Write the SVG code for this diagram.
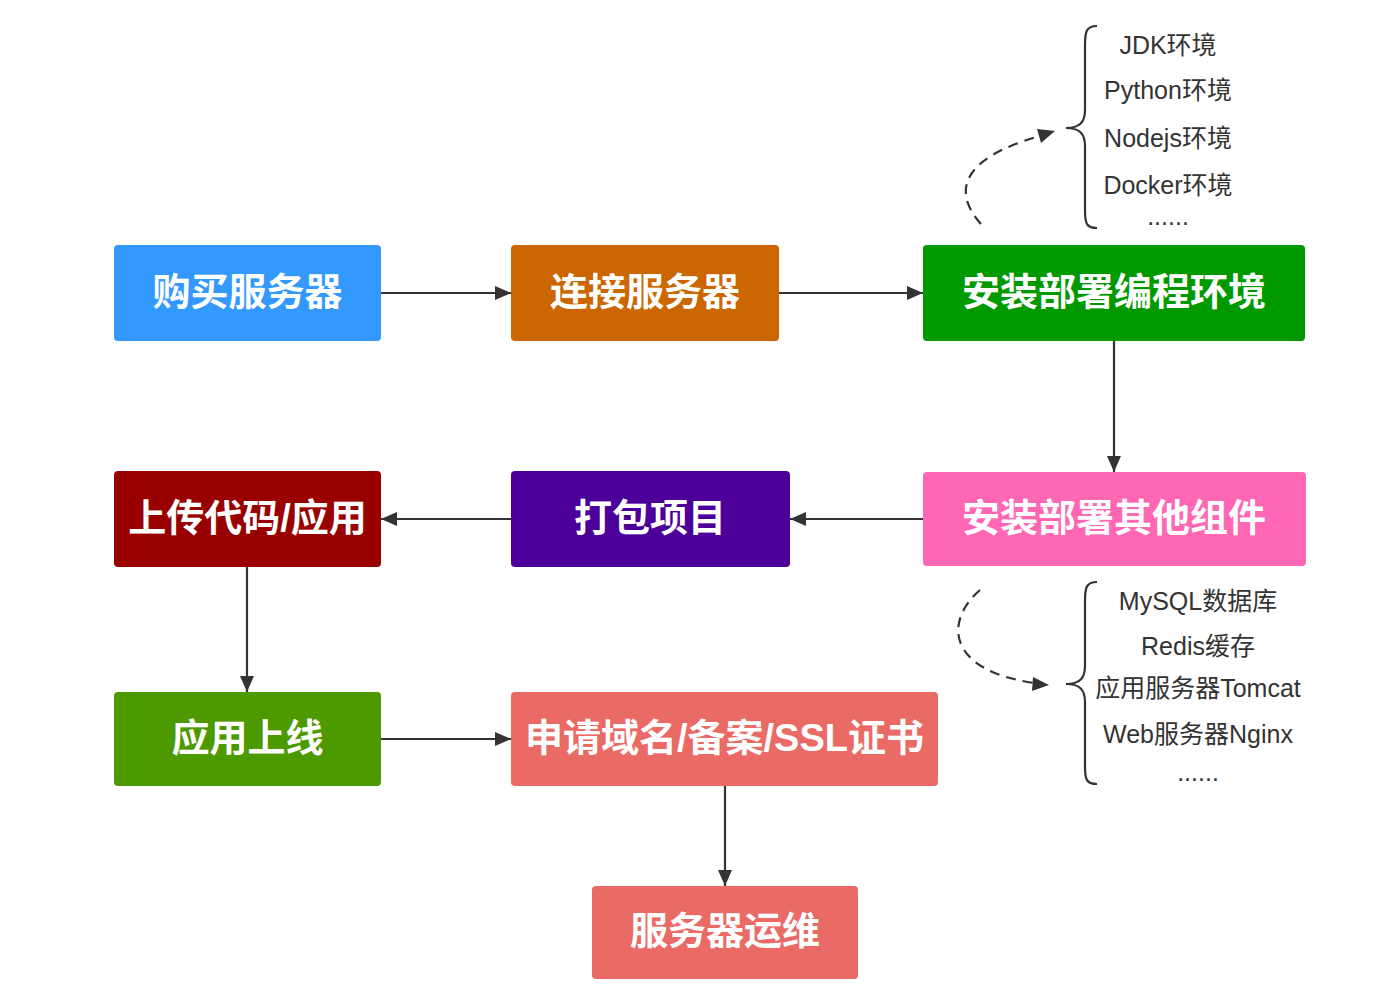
<svg xmlns="http://www.w3.org/2000/svg" width="1400" height="1006" viewBox="0 0 1400 1006">
<style>
.node text{font-family:"Liberation Sans","Noto Sans CJK SC",sans-serif;font-weight:bold;font-size:38px;fill:#fff;text-anchor:middle;dominant-baseline:central}
.ln{stroke:#333;stroke-width:2.2;fill:none}
.dash{stroke:#333;stroke-width:2.2;fill:none;stroke-dasharray:10 7}
.ah{fill:#333}
.brace{stroke:#333;stroke-width:2.2;fill:none}
.lst{font-family:"Liberation Sans","Noto Sans CJK SC",sans-serif;font-size:25px;fill:#333;text-anchor:middle;dominant-baseline:central}
</style>
<rect width="1400" height="1006" fill="#fff"/>
<g id="connectors">
<path class="ln" d="M381,293 L511,293"/>
<polygon class="ah" points="511,293 495,286 495,300"/>
<path class="ln" d="M779,293 L923,293"/>
<polygon class="ah" points="923,293 907,286 907,300"/>
<path class="ln" d="M1114,341 L1114,472"/>
<polygon class="ah" points="1114,472 1107,456 1121,456"/>
<path class="ln" d="M923,519 L790,519"/>
<polygon class="ah" points="790,519 806,512 806,526"/>
<path class="ln" d="M511,519 L381,519"/>
<polygon class="ah" points="381,519 397,512 397,526"/>
<path class="ln" d="M247,567 L247,692"/>
<polygon class="ah" points="247,692 240,676 254,676"/>
<path class="ln" d="M381,739 L511,739"/>
<polygon class="ah" points="511,739 495,732 495,746"/>
<path class="ln" d="M725,786 L725,886"/>
<polygon class="ah" points="725,886 718,870 732,870"/>
<path class="dash" d="M981,224 C955,195 955,160 1040,136"/>
<polygon class="ah" points="1055,131 1037,129 1041,143"/>
<path class="dash" d="M980,590 C945,620 945,670 1034,683"/>
<polygon class="ah" points="1049,685 1033,677 1032,691"/>
</g>
<g id="n1" class="node"><rect x="114" y="245" width="267" height="96" rx="4" fill="#3399ff"/><text x="247.5" y="292">购买服务器</text></g>
<g id="n2" class="node"><rect x="511" y="245" width="268" height="96" rx="4" fill="#cc6600"/><text x="645" y="292">连接服务器</text></g>
<g id="n3" class="node"><rect x="923" y="245" width="382" height="96" rx="4" fill="#009900"/><text x="1114" y="292">安装部署编程环境</text></g>
<g id="n4" class="node"><rect x="923" y="472" width="383" height="94" rx="4" fill="#ff66b3"/><text x="1114" y="518">安装部署其他组件</text></g>
<g id="n5" class="node"><rect x="511" y="471" width="279" height="96" rx="4" fill="#4c0099"/><text x="650" y="518">打包项目</text></g>
<g id="n6" class="node"><rect x="114" y="471" width="267" height="96" rx="4" fill="#990000"/><text x="247.5" y="518">上传代码/应用</text></g>
<g id="n7" class="node"><rect x="114" y="692" width="267" height="94" rx="4" fill="#4d9900"/><text x="247.5" y="738">应用上线</text></g>
<g id="n8" class="node"><rect x="511" y="692" width="427" height="94" rx="4" fill="#ea6b66"/><text x="724.5" y="738">申请域名/备案/SSL证书</text></g>
<g id="n9" class="node"><rect x="592" y="886" width="266" height="93" rx="4" fill="#ea6b66"/><text x="725" y="931">服务器运维</text></g>
<g id="brace1">
<path class="brace" d="M1097,26 C1086,26 1085,32 1085,45 L1085,110 C1085,122 1080,128 1066,128 C1080,128 1085,134 1085,146 L1085,210 C1085,223 1086,228 1097,228"/>
<text class="lst" x="1168" y="45">JDK环境</text>
<text class="lst" x="1168" y="90">Python环境</text>
<text class="lst" x="1168" y="138">Nodejs环境</text>
<text class="lst" x="1168" y="185">Docker环境</text>
<text class="lst" x="1168" y="216">......</text>
</g>
<g id="brace2">
<path class="brace" d="M1097,582 C1086,582 1085,588 1085,601 L1085,666 C1085,678 1080,684 1066,684 C1080,684 1085,690 1085,702 L1085,766 C1085,779 1086,784 1097,784"/>
<text class="lst" x="1198" y="601">MySQL数据库</text>
<text class="lst" x="1198" y="646">Redis缓存</text>
<text class="lst" x="1198" y="688">应用服务器Tomcat</text>
<text class="lst" x="1198" y="734">Web服务器Nginx</text>
<text class="lst" x="1198" y="772">......</text>
</g>
</svg>
